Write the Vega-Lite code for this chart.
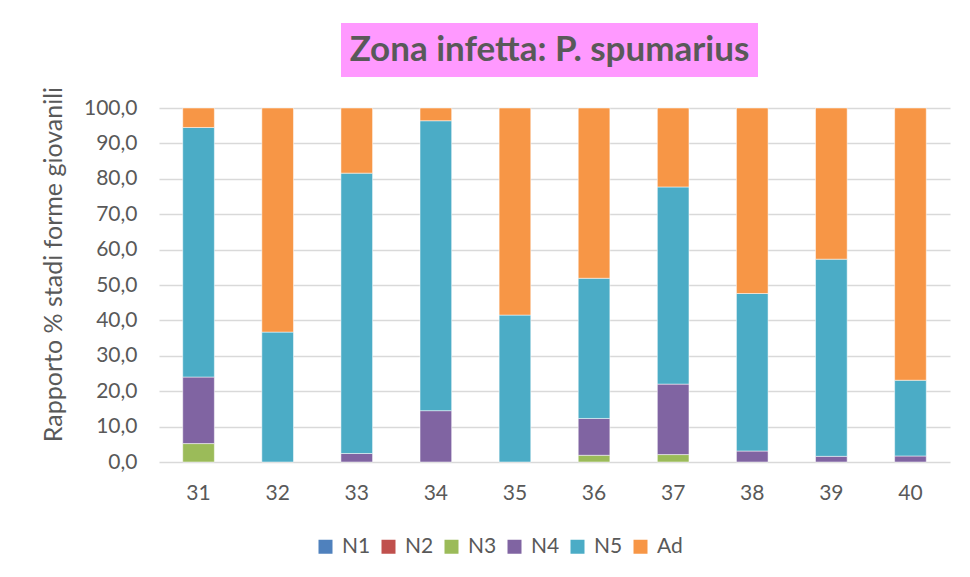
{
  "$schema": "https://vega.github.io/schema/vega-lite/v6.json",
  "background": "white",
  "padding": {"left": 41, "top": 23, "right": 5, "bottom": 5},
  "config": {"font": "Lato", "view": {"stroke": null}},
  "spacing": 9,
  "vconcat": [
    {
      "spacing": 0,
      "hconcat": [
        {
          "width": 182,
          "height": 54,
          "data": {"values": []},
          "mark": {"type": "text"},
          "encoding": {}
        },
        {
          "width": 417,
          "height": 54,
          "view": {"fill": "#ff99ff", "stroke": null},
          "data": {"values": [{"titolo": "Zona infetta: P. spumarius"}]},
          "mark": {"type": "text", "font": "Lato", "fontSize": 35, "fontWeight": "bold", "color": "#595959", "baseline": "middle", "align": "center"},
          "encoding": {"text": {"field": "titolo", "type": "nominal"}}
        }
      ]
    },
    {
      "width": 791,
      "height": 354,
      "data": {
        "values": [
          {"settimana": 31, "stadio": "N3", "percentuale": 5.2},
          {"settimana": 31, "stadio": "N4", "percentuale": 18.8},
          {"settimana": 31, "stadio": "N5", "percentuale": 70.5},
          {"settimana": 31, "stadio": "Ad", "percentuale": 5.5},
          {"settimana": 32, "stadio": "N5", "percentuale": 36.7},
          {"settimana": 32, "stadio": "Ad", "percentuale": 63.3},
          {"settimana": 33, "stadio": "N4", "percentuale": 2.4},
          {"settimana": 33, "stadio": "N5", "percentuale": 79.2},
          {"settimana": 33, "stadio": "Ad", "percentuale": 18.4},
          {"settimana": 34, "stadio": "N4", "percentuale": 14.5},
          {"settimana": 34, "stadio": "N5", "percentuale": 81.9},
          {"settimana": 34, "stadio": "Ad", "percentuale": 3.6},
          {"settimana": 35, "stadio": "N5", "percentuale": 41.5},
          {"settimana": 35, "stadio": "Ad", "percentuale": 58.5},
          {"settimana": 36, "stadio": "N3", "percentuale": 1.9},
          {"settimana": 36, "stadio": "N4", "percentuale": 10.4},
          {"settimana": 36, "stadio": "N5", "percentuale": 39.6},
          {"settimana": 36, "stadio": "Ad", "percentuale": 48.1},
          {"settimana": 37, "stadio": "N3", "percentuale": 2.1},
          {"settimana": 37, "stadio": "N4", "percentuale": 19.9},
          {"settimana": 37, "stadio": "N5", "percentuale": 55.7},
          {"settimana": 37, "stadio": "Ad", "percentuale": 22.3},
          {"settimana": 38, "stadio": "N4", "percentuale": 3.1},
          {"settimana": 38, "stadio": "N5", "percentuale": 44.5},
          {"settimana": 38, "stadio": "Ad", "percentuale": 52.4},
          {"settimana": 39, "stadio": "N4", "percentuale": 1.6},
          {"settimana": 39, "stadio": "N5", "percentuale": 55.7},
          {"settimana": 39, "stadio": "Ad", "percentuale": 42.7},
          {"settimana": 40, "stadio": "N4", "percentuale": 1.7},
          {"settimana": 40, "stadio": "N5", "percentuale": 21.4},
          {"settimana": 40, "stadio": "Ad", "percentuale": 76.9}
        ]
      },
      "transform": [
        {"calculate": "indexof(['N1','N2','N3','N4','N5','Ad'], datum.stadio)", "as": "ordine"}
      ],
      "mark": {"type": "bar", "stroke": "white", "strokeWidth": 0.5},
      "encoding": {
        "x": {
          "field": "settimana",
          "type": "ordinal",
          "title": null,
          "scale": {"paddingInner": 0.6, "paddingOuter": 0.3},
          "axis": {"labelAngle": 0, "labelFontSize": 21, "labelColor": "#595959", "labelPadding": 20, "ticks": false, "tickSize": 0, "domain": false, "grid": false}
        },
        "y": {
          "field": "percentuale",
          "type": "quantitative",
          "stack": "zero",
          "scale": {"domain": [0, 100]},
          "axis": {
            "title": "Rapporto % stadi forme giovanili",
            "titleFontSize": 25,
            "titleFontWeight": "normal",
            "titleColor": "#595959",
            "titlePadding": 17,
            "titleY": 156,
            "values": [0, 10, 20, 30, 40, 50, 60, 70, 80, 90, 100],
            "labelExpr": "replace(format(datum.value, '.1f'), '.', ',')",
            "labelFontSize": 21,
            "labelColor": "#595959",
            "labelPadding": 22,
            "ticks": false,
            "tickSize": 0,
            "domain": false,
            "gridColor": "#d9d9d9",
            "gridWidth": 1.5
          }
        },
        "color": {
          "field": "stadio",
          "type": "nominal",
          "scale": {
            "domain": ["N1", "N2", "N3", "N4", "N5", "Ad"],
            "range": ["#4f81bd", "#c0504d", "#9bbb59", "#8064a2", "#4bacc6", "#f79646"]
          },
          "legend": {
            "orient": "none",
            "legendX": 156,
            "legendY": 513,
            "direction": "horizontal",
            "title": null,
            "symbolType": "square",
            "symbolSize": 196,
            "symbolStrokeWidth": 0,
            "labelFontSize": 21,
            "labelColor": "#595959",
            "labelOffset": 6,
            "columnPadding": 7
          }
        },
        "order": {"field": "ordine", "type": "quantitative"}
      }
    }
  ]
}
